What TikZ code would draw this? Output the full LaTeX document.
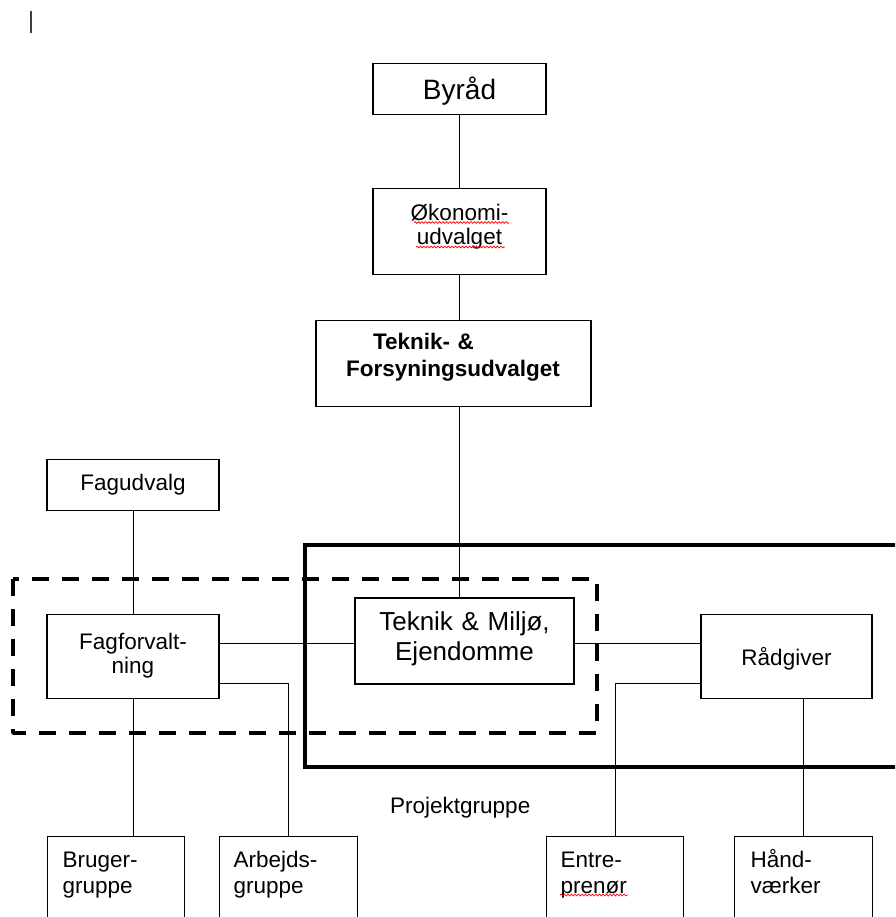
\documentclass[tikz,border=0pt]{standalone}
\usepackage{fontspec}
\setmainfont{Liberation Sans}
\usetikzlibrary{decorations.pathmorphing}
\begin{document}
\begin{tikzpicture}[x=1pt,y=-1pt,
  bx/.style={draw=black, line width=1.2pt, inner xsep=0pt, inner ysep=0pt, anchor=north, align=center, font=\fontsize{22.5}{24}\selectfont},
  botbx/.style={draw=black, line width=1.2pt, inner xsep=15pt, inner ysep=0pt, anchor=north west, align=left, text height=31pt, text depth=200pt, font=\fontsize{22.5}{26}\selectfont},
  conn/.style={line width=1pt, draw=black},
  solidframe/.style={line width=3.5pt, draw=black},
  dashframe/.style={line width=3.5pt, draw=black, dash pattern=on 17pt off 13pt, line join=round},
  spell/.style={draw=red, line width=0.7pt, decorate, decoration={snake, amplitude=0.9pt, segment length=3.5pt}}
]
\useasboundingbox (0,0) rectangle (895,917);
\clip (0,0) rectangle (895,917);

% cursor mark
\draw[line width=1.5pt, draw=black!75] (31,11) -- (31,33);

% boxes
\node[bx, text width=173pt, text height=36pt, text depth=15pt, font=\fontsize{28}{32}\selectfont] (by) at (459.5,63) {Byråd};
\node[bx, text width=173pt, text height=32pt, text depth=54pt] (ok) at (459.5,188) {Økonomi-\\udvalget};
\node[bx, align=left, text width=275pt, text height=29pt, text depth=57pt, font=\bfseries\fontsize{22.5}{27}\selectfont] (tf) at (453.5,320) {\hspace*{57pt}Teknik- \&\\\hspace*{30pt}Forsyningsudvalget};
\node[bx, text width=172pt, text height=31pt, text depth=20pt] (fu) at (133,459) {Fagudvalg};
\node[bx, text width=172pt, text height=35pt, text depth=49pt] (ff) at (133,614) {Fagforvalt-\\ning};
\node[bx, line width=1.6pt, text width=219pt, text height=33pt, text depth=53pt, font=\fontsize{26}{30}\selectfont] (tm) at (464.5,597) {Teknik \& Miljø,\\Ejendomme};
\node[bx, text width=171pt, text height=51pt, text depth=33pt] (rd) at (786.5,614) {Rådgiver};

\node[botbx, text width=107pt] (bg) at (47,836) {Bruger-\\gruppe};
\node[botbx, inner xsep=14pt, text width=110pt] (ag) at (219,836) {Arbejds-\\gruppe};
\node[botbx, inner xsep=14pt, text width=109pt] (en) at (546,836) {Entre-\\prenør};
\node[botbx, inner xsep=16pt, text width=106pt] (hv) at (734,836) {Hånd-\\værker};

\node[anchor=base west, inner sep=0pt, font=\fontsize{22.5}{26}\selectfont] (pg) at (390,813) {Projektgruppe};

% connectors
\coordinate (h1) at (0,643);
\coordinate (h2) at (0,683);
\draw[conn] (by.south) -- (ok.north);
\draw[conn] (ok.south) -- (ok.south |- tf.north);
\draw[conn] (ok.south |- tf.south) -- (ok.south |- tm.north);
\draw[conn] (fu.south) -- (ff.north);
\draw[conn] (ff.east |- h1) -- (tm.west |- h1);
\draw[conn] (tm.east |- h1) -- (rd.west |- h1);
\draw[conn] (ff.east |- h2) -| (ag.north);
\draw[conn] (ff.south) -- (ff.south |- bg.north);
\draw[conn] (rd.west |- h2) -| (en.north);
\draw[conn] (hv.north) -- (hv.north |- rd.south);

% frames
\draw[solidframe] (305,545) rectangle (930,767);
\draw[dashframe] (13,579) rectangle (597,733);

% spelling marks
\draw[spell] (414,222.5) -- (509,222.5);
\draw[spell] (416,247) -- (505,247);
\draw[spell] (560,895) -- (628,895);
\end{tikzpicture}
\end{document}
